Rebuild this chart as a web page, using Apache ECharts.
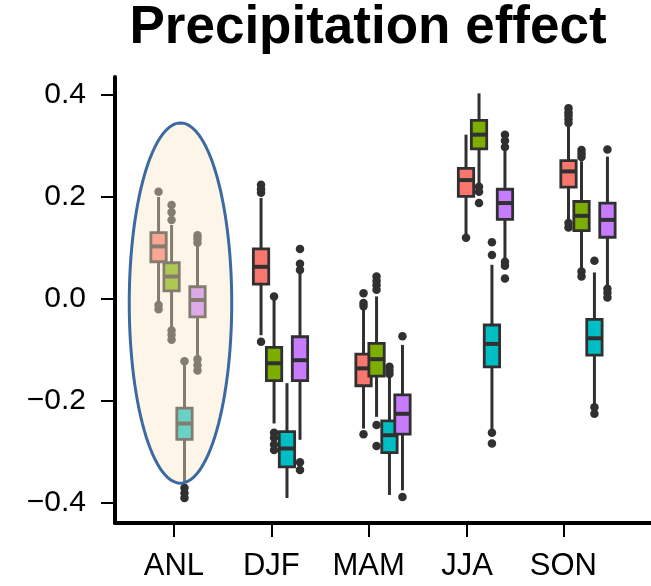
<!DOCTYPE html>
<html><head><meta charset="utf-8">
<script src="https://cdn.jsdelivr.net/npm/echarts@6/dist/echarts.min.js"></script>
<style>html,body{margin:0;padding:0;background:#fff}#c{width:651px;height:586px}</style>
</head><body><div id="c"></div>
<script>
const categories = ['ANL', 'DJF', 'MAM', 'JJA', 'SON'];
const yTicks = [-0.4, -0.2, 0.0, 0.2, 0.4];
const xTickPositions = [-0.04, 0.91, 1.86, 2.82, 3.76];

// [low whisker, Q1, median, Q3, high whisker] per category
const redBoxes = [
  [-0.005, 0.073, 0.103, 0.130, 0.200],
  [-0.071, 0.029, 0.063, 0.098, 0.198],
  [-0.254, -0.170, -0.136, -0.108, -0.020],
  [0.125, 0.201, 0.233, 0.256, 0.322],
  [0.152, 0.219, 0.250, 0.271, 0.340]
];
const redOutliers = [
  [0.210, -0.012, -0.020],
  [0.224, 0.215, 0.208, -0.084],
  [0.011, -0.008, -0.014, -0.265],
  [0.120],
  [0.374, 0.366, 0.360, 0.352, 0.345, 0.149, 0.140]
];
const greenBoxes = [
  [-0.057, 0.016, 0.044, 0.071, 0.145],
  [-0.244, -0.160, -0.126, -0.095, 0.000],
  [-0.231, -0.151, -0.118, -0.087, 0.005],
  [0.227, 0.294, 0.322, 0.350, 0.403],
  [0.057, 0.134, 0.163, 0.191, 0.270]
];
const greenOutliers = [
  [0.184, 0.170, 0.155, -0.062, -0.070, -0.080],
  [0.005, -0.262, -0.272, -0.285, -0.296],
  [0.044, 0.035, 0.027, 0.018, -0.247, -0.288],
  [0.220, 0.210, 0.188],
  [0.292, 0.285, 0.278, 0.054, 0.044]
];
const cyanBoxes = [
  [-0.361, -0.275, -0.244, -0.214, -0.125],
  [-0.390, -0.329, -0.293, -0.260, -0.165],
  [-0.384, -0.301, -0.267, -0.239, -0.150],
  [-0.257, -0.133, -0.088, -0.051, 0.067],
  [-0.208, -0.110, -0.077, -0.040, 0.052]
];
const cyanOutliers = [
  [-0.122, -0.370, -0.380, -0.390],
  [],
  [-0.133, -0.140, -0.147],
  [0.111, 0.086, -0.262, -0.283],
  [0.075, -0.212, -0.225]
];
const purpleBoxes = [
  [-0.113, -0.035, -0.002, 0.024, 0.105],
  [-0.276, -0.160, -0.120, -0.074, 0.050],
  [-0.375, -0.265, -0.225, -0.188, -0.090],
  [0.076, 0.156, 0.188, 0.215, 0.290],
  [0.024, 0.121, 0.155, 0.188, 0.279]
];
const purpleOutliers = [
  [0.125, 0.118, 0.110, -0.118, -0.130, -0.140],
  [0.098, 0.069, 0.057, -0.320, -0.335],
  [-0.073, -0.388],
  [0.322, 0.310, 0.298, 0.073, 0.065, 0.040],
  [0.293, 0.020, 0.012, 0.003]
];
// highlight ellipse around ANL: [centre x (category units), centre y, radius x, radius y]
const highlightEllipse = [0.024, -0.008, 0.50, 0.353];

const FONT = "'Liberation Sans', Arial, sans-serif";
const EDGE = '#303030';
const BOX_W = 0.15;
const hues = [
  { boxes: redBoxes, outliers: redOutliers, color: '#f8766d', offset: -0.19 },
  { boxes: greenBoxes, outliers: greenOutliers, color: '#7cae00', offset: -0.063 },
  { boxes: cyanBoxes, outliers: cyanOutliers, color: '#00bfc4', offset: 0.063 },
  { boxes: purpleBoxes, outliers: purpleOutliers, color: '#c77cff', offset: 0.19 }
];

function boxRender(offset, fill) {
  return function (params, api) {
    const x = api.value(0) + offset;
    const lo = api.coord([x, api.value(1)]);
    const q1 = api.coord([x, api.value(2)]);
    const md = api.coord([x, api.value(3)]);
    const q3 = api.coord([x, api.value(4)]);
    const hi = api.coord([x, api.value(5)]);
    const w = api.size([BOX_W, 0])[0];
    const cx = lo[0];
    return {
      type: 'group',
      children: [
        { type: 'line', shape: { x1: cx, y1: hi[1], x2: cx, y2: lo[1] }, style: { stroke: EDGE, lineWidth: 3 } },
        { type: 'rect', shape: { x: cx - w / 2, y: q3[1], width: w, height: q1[1] - q3[1] }, style: { fill: fill, stroke: EDGE, lineWidth: 2.8 } },
        { type: 'line', shape: { x1: cx - w / 2, y1: md[1], x2: cx + w / 2, y2: md[1] }, style: { stroke: EDGE, lineWidth: 4 } }
      ]
    };
  };
}

const series = [];
hues.forEach(function (h, hi) {
  series.push({
    type: 'custom',
    z: 2 + hi,
    renderItem: boxRender(h.offset, h.color),
    encode: { x: 0, y: [1, 2, 3, 4, 5] },
    data: h.boxes.map(function (b, i) { return [i].concat(b); }),
    clip: false,
    silent: true
  });
  const pts = [];
  h.outliers.forEach(function (arr, i) { arr.forEach(function (v) { pts.push([i + h.offset, v]); }); });
  series.push({
    type: 'scatter',
    z: 2 + hi,
    symbol: 'circle',
    symbolSize: 8.5,
    itemStyle: { color: EDGE, opacity: 1 },
    data: pts,
    silent: true
  });
});
series.push({
  type: 'custom',
  z: 20,
  silent: true,
  clip: false,
  encode: { x: 0, y: 1 },
  data: [highlightEllipse],
  renderItem: function (params, api) {
    const cx = api.value(0), cy = api.value(1), rx = api.value(2), ry = api.value(3);
    const points = [];
    for (let k = 0; k < 120; k++) {
      const t = (k / 120) * Math.PI * 2;
      points.push(api.coord([cx + rx * Math.cos(t), cy + ry * Math.sin(t)]));
    }
    return {
      type: 'polygon',
      shape: { points: points, smooth: 0 },
      style: { fill: 'rgba(250,233,200,0.42)', stroke: '#3b6aa2', lineWidth: 3 }
    };
  }
});

const chart = echarts.init(document.getElementById('c'), null, { renderer: 'canvas' });
chart.setOption({
  animation: false,
  backgroundColor: '#ffffff',
  title: {
    text: 'Precipitation effect',
    left: 363,
    textAlign: 'center',
    top: -3,
    textStyle: { fontFamily: FONT, fontWeight: 'bold', fontSize: 53, color: '#000' }
  },
  grid: { left: 115, right: 0, top: 77, bottom: 63 },
  xAxis: {
    type: 'value',
    min: -0.615,
    max: 4.615,
    splitLine: { show: false },
    axisLine: { show: true, onZero: false, lineStyle: { color: '#000', width: 4 } },
    axisTick: { show: true, customValues: xTickPositions, length: 14, lineStyle: { color: '#000', width: 2 } },
    axisLabel: {
      customValues: xTickPositions,
      formatter: function (v) {
        let best = 0;
        xTickPositions.forEach(function (p, i) { if (Math.abs(p - v) < Math.abs(xTickPositions[best] - v)) best = i; });
        return categories[best];
      },
      fontFamily: FONT, fontSize: 31, color: '#000', margin: 28
    }
  },
  yAxis: {
    type: 'value',
    min: -0.439,
    max: 0.435,
    splitLine: { show: false },
    axisLine: { show: true, onZero: false, lineStyle: { color: '#000', width: 4 } },
    axisTick: { show: true, customValues: yTicks, length: 14, lineStyle: { color: '#000', width: 2 } },
    axisLabel: {
      customValues: yTicks,
      formatter: function (v) { return (v < 0 ? '\u2212' : '') + Math.abs(v).toFixed(1); },
      fontFamily: FONT, fontSize: 30, color: '#000', margin: 29
    }
  },
  series: series
});
</script>
</body></html>
